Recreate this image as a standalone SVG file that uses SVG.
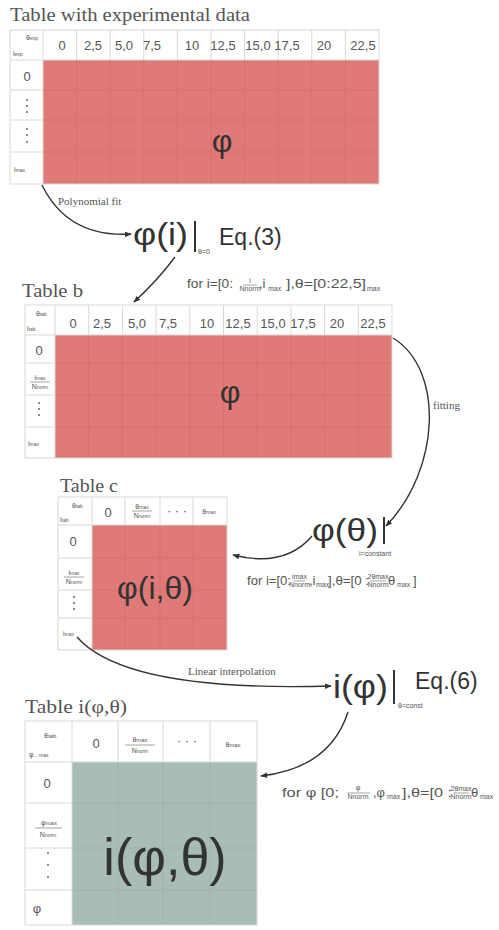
<svg xmlns="http://www.w3.org/2000/svg" width="499" height="930" viewBox="0 0 499 930">
<style>
.title{font-family:"Liberation Serif",serif;font-size:19px;fill:#555}
.lbl{font-family:"Liberation Serif",serif;font-size:11px;fill:#555}
.hd{font-family:"Liberation Sans",Arial,sans-serif;font-size:13px;fill:#555;text-anchor:middle}
.tiny{font-family:"Liberation Sans",Arial,sans-serif;font-size:7px;fill:#555}
.tinyc{font-family:"Liberation Sans",Arial,sans-serif;font-size:7px;fill:#555;text-anchor:middle}
.math{font-family:"Liberation Sans",Arial,sans-serif;fill:#333}
.cond{font-family:"Liberation Sans",Arial,sans-serif;font-size:13px;fill:#555}
.grid{fill:none;stroke:#d8d8d8;stroke-width:1}
.red{fill:#e07a78}
.green{fill:#a9bdb7}
.rline{stroke:#cf6c6a;stroke-width:1;opacity:0.6}
.gline{stroke:#98aea8;stroke-width:1;opacity:0.6}
.conn{fill:none;stroke:#333;stroke-width:1.4}
.frac{stroke:#666;stroke-width:0.6}
.dot{fill:#666}
</style>
<defs>
<marker id="ah" viewBox="0 0 10 10" refX="9" refY="5" markerWidth="7" markerHeight="7" orient="auto-start-reverse" markerUnits="userSpaceOnUse">
<path d="M0,1 L10,5 L0,9 Z" fill="#333"/>
</marker>
</defs>

<g id="table-exp">
<text class="title" x="10" y="21" textLength="240" lengthAdjust="spacingAndGlyphs">Table with experimental data</text>
<rect class="red" x="43" y="60" width="336" height="124"/>
<g class="rline">
<line x1="76.6" y1="60" x2="76.6" y2="184"/><line x1="110.2" y1="60" x2="110.2" y2="184"/><line x1="143.8" y1="60" x2="143.8" y2="184"/><line x1="177.4" y1="60" x2="177.4" y2="184"/><line x1="211" y1="60" x2="211" y2="184"/><line x1="244.6" y1="60" x2="244.6" y2="184"/><line x1="278.2" y1="60" x2="278.2" y2="184"/><line x1="311.8" y1="60" x2="311.8" y2="184"/><line x1="345.4" y1="60" x2="345.4" y2="184"/>
<line x1="43" y1="90" x2="379" y2="90"/><line x1="43" y1="120" x2="379" y2="120"/><line x1="43" y1="152" x2="379" y2="152"/>
</g>
<rect class="grid" x="10" y="30" width="369" height="154"/>
<g class="grid">
<line x1="43" y1="30" x2="43" y2="184"/><line x1="10" y1="60" x2="379" y2="60"/>
<line x1="76.6" y1="30" x2="76.6" y2="60"/><line x1="110.2" y1="30" x2="110.2" y2="60"/><line x1="143.8" y1="30" x2="143.8" y2="60"/><line x1="177.4" y1="30" x2="177.4" y2="60"/><line x1="211" y1="30" x2="211" y2="60"/><line x1="244.6" y1="30" x2="244.6" y2="60"/><line x1="278.2" y1="30" x2="278.2" y2="60"/><line x1="311.8" y1="30" x2="311.8" y2="60"/><line x1="345.4" y1="30" x2="345.4" y2="60"/>
<line x1="10" y1="90" x2="43" y2="90"/><line x1="10" y1="120" x2="43" y2="120"/><line x1="10" y1="152" x2="43" y2="152"/>
</g>
<text class="tiny" x="26" y="40">θ<tspan font-size="5">exp</tspan></text>
<text class="tiny" x="13" y="56">i<tspan font-size="5">exp</tspan></text>
<text class="hd" x="62" y="50">0</text><text class="hd" x="93" y="50">2,5</text><text class="hd" x="124" y="50">5,0</text><text class="hd" x="152" y="50">7,5</text><text class="hd" x="192" y="50">10</text><text class="hd" x="223" y="50">12,5</text><text class="hd" x="258" y="50">15,0</text><text class="hd" x="287" y="50">17,5</text><text class="hd" x="324" y="50">20</text><text class="hd" x="363" y="50">22,5</text>
<text class="hd" x="27" y="81">0</text>
<circle class="dot" cx="27" cy="100" r="1"/><circle class="dot" cx="27" cy="106" r="1"/><circle class="dot" cx="27" cy="112" r="1"/>
<circle class="dot" cx="27" cy="129" r="1"/><circle class="dot" cx="27" cy="135" r="1"/><circle class="dot" cx="27" cy="142" r="1"/>
<text class="tiny" x="14" y="172">i<tspan font-size="5">max</tspan></text>
<text class="math" x="222" y="152" font-size="32" text-anchor="middle">φ</text>
</g>

<g id="eq3">
<text class="math" x="133" y="245" font-size="31" textLength="55" lengthAdjust="spacingAndGlyphs">φ(i)</text>
<line x1="195" y1="221" x2="195" y2="252" stroke="#333" stroke-width="2"/>
<text class="tiny" x="198" y="254">θ=0</text>
<text class="math" x="219" y="245" font-size="23">Eq.(3)</text>
</g>

<g id="table-b">
<text class="title" x="22" y="297" textLength="61" lengthAdjust="spacingAndGlyphs">Table b</text>
<rect class="red" x="55" y="335" width="337" height="123"/>
<g class="rline">
<line x1="88.7" y1="335" x2="88.7" y2="458"/><line x1="122.4" y1="335" x2="122.4" y2="458"/><line x1="156.1" y1="335" x2="156.1" y2="458"/><line x1="189.8" y1="335" x2="189.8" y2="458"/><line x1="223.5" y1="335" x2="223.5" y2="458"/><line x1="257.2" y1="335" x2="257.2" y2="458"/><line x1="290.9" y1="335" x2="290.9" y2="458"/><line x1="324.6" y1="335" x2="324.6" y2="458"/><line x1="358.3" y1="335" x2="358.3" y2="458"/>
<line x1="55" y1="363" x2="392" y2="363"/><line x1="55" y1="395" x2="392" y2="395"/><line x1="55" y1="427" x2="392" y2="427"/>
</g>
<rect class="grid" x="25" y="305" width="367" height="153"/>
<g class="grid">
<line x1="55" y1="305" x2="55" y2="458"/><line x1="25" y1="335" x2="392" y2="335"/>
<line x1="88.7" y1="305" x2="88.7" y2="335"/><line x1="122.4" y1="305" x2="122.4" y2="335"/><line x1="156.1" y1="305" x2="156.1" y2="335"/><line x1="189.8" y1="305" x2="189.8" y2="335"/><line x1="223.5" y1="305" x2="223.5" y2="335"/><line x1="257.2" y1="305" x2="257.2" y2="335"/><line x1="290.9" y1="305" x2="290.9" y2="335"/><line x1="324.6" y1="305" x2="324.6" y2="335"/><line x1="358.3" y1="305" x2="358.3" y2="335"/>
<line x1="25" y1="363" x2="55" y2="363"/><line x1="25" y1="395" x2="55" y2="395"/><line x1="25" y1="427" x2="55" y2="427"/>
</g>
<text class="tiny" x="36" y="316">θ<tspan font-size="5">tab</tspan></text>
<text class="tiny" x="27" y="331">i<tspan font-size="5">tab</tspan></text>
<text class="hd" x="73" y="328">0</text><text class="hd" x="102" y="328">2,5</text><text class="hd" x="137" y="328">5,0</text><text class="hd" x="168" y="328">7,5</text><text class="hd" x="207" y="328">10</text><text class="hd" x="238" y="328">12,5</text><text class="hd" x="273" y="328">15,0</text><text class="hd" x="303" y="328">17,5</text><text class="hd" x="337" y="328">20</text><text class="hd" x="373" y="328">22,5</text>
<text class="hd" x="39" y="355">0</text>
<text class="tinyc" x="40" y="380">i<tspan font-size="5">max</tspan></text>
<line class="frac" x1="30" y1="382" x2="50" y2="382"/>
<text class="tinyc" x="40" y="389">N<tspan font-size="5">norm</tspan></text>
<circle class="dot" cx="39" cy="403" r="1"/><circle class="dot" cx="39" cy="409" r="1"/><circle class="dot" cx="39" cy="415" r="1"/>
<text class="tiny" x="28" y="446">i<tspan font-size="5">max</tspan></text>
<text class="math" x="230" y="403" font-size="32" text-anchor="middle">φ</text>
</g>

<g id="eq-theta">
<text class="math" x="312" y="541" font-size="31" textLength="66" lengthAdjust="spacingAndGlyphs">φ(θ)</text>
<line x1="384" y1="517" x2="384" y2="544" stroke="#333" stroke-width="2"/>
<text class="tiny" x="359" y="556">i=constant</text>
</g>

<g id="table-c">
<text class="title" x="60" y="492" textLength="58" lengthAdjust="spacingAndGlyphs">Table c</text>
<rect class="red" x="92" y="525" width="135" height="125"/>
<g class="rline">
<line x1="125" y1="525" x2="125" y2="650"/><line x1="160" y1="525" x2="160" y2="650"/><line x1="193" y1="525" x2="193" y2="650"/>
<line x1="92" y1="558" x2="227" y2="558"/><line x1="92" y1="590" x2="227" y2="590"/><line x1="92" y1="618" x2="227" y2="618"/>
</g>
<rect class="grid" x="58" y="497" width="169" height="153"/>
<g class="grid">
<line x1="92" y1="497" x2="92" y2="650"/><line x1="58" y1="525" x2="227" y2="525"/>
<line x1="125" y1="497" x2="125" y2="525"/><line x1="160" y1="497" x2="160" y2="525"/><line x1="193" y1="497" x2="193" y2="525"/>
<line x1="58" y1="558" x2="92" y2="558"/><line x1="58" y1="590" x2="92" y2="590"/><line x1="58" y1="618" x2="92" y2="618"/>
</g>
<text class="tiny" x="72" y="508">θ<tspan font-size="5">tab</tspan></text>
<text class="tiny" x="60" y="522">i<tspan font-size="5">tab</tspan></text>
<text class="hd" x="108" y="517">0</text>
<text class="tinyc" x="142" y="509">θ<tspan font-size="5">max</tspan></text>
<line class="frac" x1="132" y1="511" x2="152" y2="511"/>
<text class="tinyc" x="142" y="518">N<tspan font-size="5">norm</tspan></text>
<text class="hd" x="177" y="515">· · ·</text>
<text class="tinyc" x="209" y="514">θ<tspan font-size="5">max</tspan></text>
<text class="hd" x="73" y="546">0</text>
<text class="tinyc" x="74" y="575">i<tspan font-size="5">max</tspan></text>
<line class="frac" x1="64" y1="577" x2="84" y2="577"/>
<text class="tinyc" x="74" y="584">N<tspan font-size="5">norm</tspan></text>
<circle class="dot" cx="74" cy="597" r="1"/><circle class="dot" cx="74" cy="603" r="1"/><circle class="dot" cx="74" cy="609" r="1"/>
<text class="tiny" x="63" y="636">i<tspan font-size="5">max</tspan></text>
<text class="math" x="155" y="599" font-size="32" text-anchor="middle">φ(i,θ)</text>
</g>

<g id="eq6">
<text class="math" x="333" y="698" font-size="33" textLength="55" lengthAdjust="spacingAndGlyphs">i(φ)</text>
<line x1="394" y1="670" x2="394" y2="704" stroke="#333" stroke-width="2"/>
<text class="tiny" x="398" y="708">θ=const</text>
<text class="math" x="415" y="689" font-size="23">Eq.(6)</text>
</g>

<g id="table-i">
<text class="title" x="25" y="713" textLength="102" lengthAdjust="spacingAndGlyphs">Table i(φ,θ)</text>
<rect class="green" x="72" y="762" width="185" height="163"/>
<g class="gline">
<line x1="118" y1="762" x2="118" y2="925"/><line x1="163" y1="762" x2="163" y2="925"/><line x1="210" y1="762" x2="210" y2="925"/>
<line x1="72" y1="803" x2="257" y2="803"/><line x1="72" y1="848" x2="257" y2="848"/><line x1="72" y1="890" x2="257" y2="890"/>
</g>
<rect class="grid" x="25" y="721" width="232" height="204"/>
<g class="grid">
<line x1="72" y1="721" x2="72" y2="925"/><line x1="25" y1="762" x2="257" y2="762"/>
<line x1="118" y1="721" x2="118" y2="762"/><line x1="163" y1="721" x2="163" y2="762"/><line x1="210" y1="721" x2="210" y2="762"/>
<line x1="25" y1="803" x2="72" y2="803"/><line x1="25" y1="848" x2="72" y2="848"/><line x1="25" y1="890" x2="72" y2="890"/>
</g>
<text class="tiny" x="44" y="738" font-size="10">θ<tspan font-size="6">tab</tspan></text>
<text class="tiny" x="29" y="757" font-size="10">φ<tspan font-size="5">... max</tspan></text>
<text class="hd" x="96" y="748">0</text>
<text class="tinyc" x="140" y="742" font-size="10">θ<tspan font-size="6">max</tspan></text>
<line class="frac" x1="125" y1="745" x2="155" y2="745"/>
<text class="tinyc" x="140" y="753">N<tspan font-size="5">norm</tspan></text>
<text class="hd" x="187" y="745">· · ·</text>
<text class="tinyc" x="233" y="747" font-size="10">θ<tspan font-size="6">max</tspan></text>
<text class="hd" x="47" y="788">0</text>
<text class="tinyc" x="49" y="825" font-size="10">φ<tspan font-size="6">max</tspan></text>
<line class="frac" x1="35" y1="828" x2="62" y2="828"/>
<text class="tinyc" x="48" y="837">N<tspan font-size="5">norm</tspan></text>
<circle class="dot" cx="48" cy="853" r="1"/><circle class="dot" cx="48" cy="865" r="1"/><circle class="dot" cx="48" cy="877" r="1"/>
<text class="hd" x="37" y="913" font-size="15" text-anchor="start">φ</text>
<text class="math" x="165" y="875" font-size="52" text-anchor="middle">i(φ,θ)</text>
</g>

<g id="connectors">
<path class="conn" d="M42,185 Q68,238 131,234" marker-end="url(#ah)"/>
<text class="lbl" x="58" y="205">Polynomial fit</text>
<path class="conn" d="M175,257 Q158,280 134,302" marker-end="url(#ah)"/>
<text class="cond" x="187" y="288" textLength="46" lengthAdjust="spacingAndGlyphs">for i=[0:</text>
<text class="tinyc" x="250" y="283" font-size="6">i</text>
<line class="frac" x1="243" y1="285" x2="257" y2="285"/>
<text class="tinyc" x="250" y="291" font-size="4.5">Nnorm</text>
<text class="cond" x="259" y="288">,i</text>
<text class="tiny" x="268" y="291" font-size="6">max</text>
<text class="cond" x="286" y="288" textLength="80" lengthAdjust="spacingAndGlyphs">],θ=[0:22,5]</text>
<text class="tiny" x="367" y="291" font-size="6">max</text>

<path class="conn" d="M393,338 C445,370 440,470 386,526" marker-end="url(#ah)"/>
<text class="lbl" x="433" y="409" font-size="10">fitting</text>
<path class="conn" d="M312,536 Q285,568 233,555" marker-end="url(#ah)"/>
<text class="cond" x="247" y="585" textLength="44" lengthAdjust="spacingAndGlyphs">for i=[0:</text>
<text class="tinyc" x="299.5" y="579" font-size="5">imax</text>
<line class="frac" x1="294" y1="581" x2="305" y2="581"/>
<text class="tinyc" x="299.5" y="587" font-size="4">Nnorm</text>
<text class="cond" x="309" y="585">,i</text>
<text class="tiny" x="316" y="587" font-size="5">max</text>
<text class="cond" x="328" y="585" textLength="41" lengthAdjust="spacingAndGlyphs">],θ=[0 :</text>
<text class="tinyc" x="378" y="579" font-size="5">2θmax</text>
<line class="frac" x1="370" y1="581" x2="386" y2="581"/>
<text class="tinyc" x="378" y="587" font-size="4">Nnorm</text>
<text class="cond" x="388" y="585">θ</text>
<text class="tiny" x="397" y="587" font-size="8">max</text>
<text class="cond" x="413" y="585">]</text>

<path class="conn" d="M77,637 Q125,692 331,686" marker-end="url(#ah)"/>
<text class="lbl" x="188" y="675">Linear interpolation</text>
<path class="conn" d="M348,712 Q330,768 261,776" marker-end="url(#ah)"/>
<text class="cond" x="282" y="797" textLength="57" lengthAdjust="spacingAndGlyphs">for φ [0;</text>
<text class="tinyc" x="358" y="790" font-size="8">φ</text>
<line class="frac" x1="347" y1="793" x2="370" y2="793"/>
<text class="tinyc" x="358" y="799" font-size="4.5">Nnorm</text>
<text class="cond" x="373" y="797">,φ</text>
<text class="tiny" x="387" y="799" font-size="5">max</text>
<text class="cond" x="402" y="797" textLength="50" lengthAdjust="spacingAndGlyphs">],θ=[0 :</text>
<text class="tinyc" x="461" y="791" font-size="5">2θmax</text>
<line class="frac" x1="453" y1="793" x2="469" y2="793"/>
<text class="tinyc" x="461" y="799" font-size="4">Nnorm</text>
<text class="cond" x="471" y="797">θ</text>
<text class="tiny" x="480" y="799" font-size="6">max</text>
</g>
</svg>
